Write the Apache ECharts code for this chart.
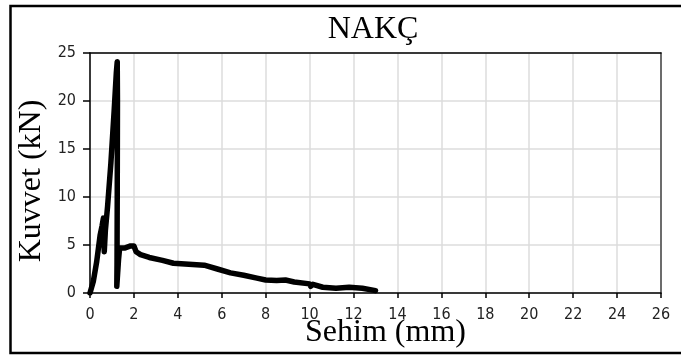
<!DOCTYPE html>
<html>
<head>
<meta charset="utf-8">
<script src="https://cdn.jsdelivr.net/npm/echarts@6/dist/echarts.min.js"></script>
<style>
  * { margin: 0; padding: 0; }
  #chart { width: 681px; height: 356px; background: #fff; }
</style>
</head>
<body>
<div id="chart"></div>
<script>
// eksen verileri
const xTicks = { min: 0, max: 26, interval: 2 };
const yTicks = { min: 0, max: 25, interval: 5 };

// Sehim (mm) - Kuvvet (kN), egriden okunan noktalar
const sehim = [0, 0.15, 0.3, 0.46, 0.55, 0.61, 0.63, 0.65, 0.7, 0.8, 0.95, 1.1, 1.2, 1.24,
  1.25, 1.24, 1.23, 1.22, 1.3, 1.35, 1.6, 1.85, 2.0, 2.1, 2.3, 2.7, 3.3, 3.8, 4.5, 5.2,
  5.8, 6.4, 7.0, 7.6, 8.0, 8.5, 8.9, 9.3, 10.0, 10.05, 10.15, 10.6, 11.2, 11.8, 12.4, 13.0];
const kuvvet = [0, 1.2, 3.2, 6.0, 7.0, 7.8, 5.5, 4.3, 6.5, 9.0, 13.5, 19, 23, 24.1,
  20, 10, 3, 0.7, 3.5, 4.7, 4.7, 4.9, 4.9, 4.3, 4.0, 3.7, 3.4, 3.1, 3.0, 2.9,
  2.5, 2.1, 1.85, 1.55, 1.35, 1.3, 1.35, 1.15, 0.95, 0.7, 0.9, 0.6, 0.5, 0.6, 0.5, 0.25];

const chart = echarts.init(document.getElementById('chart'));

const labelFont = { color: '#222', fontSize: 16, fontFamily: 'DejaVu Sans Condensed, Roboto, Liberation Sans, sans-serif' };
const nameFont = { color: '#000', fontSize: 32, fontFamily: 'Liberation Serif, serif' };
// sadece cerceve cizgisi icin bos eksen
const frameAxis = (color, pos) => ({
  type: 'value', min: 0, max: 1, position: pos, z: 3,
  axisLine: { show: true, onZero: false, lineStyle: { color: color, width: 1.5 } },
  axisTick: { show: false }, axisLabel: { show: false }, splitLine: { show: false }
});

chart.setOption({
  animation: false,
  title: {
    text: 'NAKÇ',
    left: 368,
    top: 9,
    textAlign: 'center',
    textStyle: { color: '#000', fontSize: 32, fontWeight: 'normal', fontFamily: 'Liberation Serif, serif' }
  },
  graphic: [{
    type: 'rect',
    shape: { x: 10.5, y: 6, width: 700, height: 347 },
    style: { fill: 'none', stroke: '#000', lineWidth: 2.5 },
    silent: true
  }],
  grid: { left: 90, right: 20, top: 53, bottom: 63, outerBoundsMode: 'none' },
  xAxis: [{
    type: 'value',
    min: xTicks.min, max: xTicks.max, interval: xTicks.interval,
    name: 'Sehim (mm)',
    nameLocation: 'middle',
    nameGap: 24,
    nameMoveOverlap: false,
    nameTextStyle: Object.assign({ padding: [0, 0, 0, 20] }, nameFont),
    axisLine: { show: true, lineStyle: { color: '#000', width: 1.5 } },
    axisTick: { show: true, length: 5, lineStyle: { color: '#000', width: 1.5 } },
    axisLabel: Object.assign({ margin: 14 }, labelFont),
    splitLine: { show: true, lineStyle: { color: '#dcdcdc', width: 1.5 } },
    z: 3
  }, frameAxis('#000', 'top')],
  yAxis: [{
    type: 'value',
    min: yTicks.min, max: yTicks.max, interval: yTicks.interval,
    name: 'Kuvvet (kN)',
    nameLocation: 'middle',
    nameGap: 42,
    nameMoveOverlap: false,
    nameTextStyle: Object.assign({ padding: [0, 16, 0, 0] }, nameFont),
    axisLine: { show: true, lineStyle: { color: '#000', width: 1.5 } },
    axisTick: { show: true, length: 7, lineStyle: { color: '#000', width: 1.5 } },
    axisLabel: Object.assign({ margin: 14 }, labelFont),
    splitLine: { show: true, lineStyle: { color: '#dcdcdc', width: 1.5 } },
    z: 3
  }, frameAxis('#444', 'right')],
  series: [{
    type: 'line',
    data: sehim.map((x, i) => [x, kuvvet[i]]),
    showSymbol: false,
    smooth: false,
    z: 5,
    lineStyle: { color: '#000', width: 5.5, join: 'round', cap: 'round' }
  }]
});
</script>
</body>
</html>
